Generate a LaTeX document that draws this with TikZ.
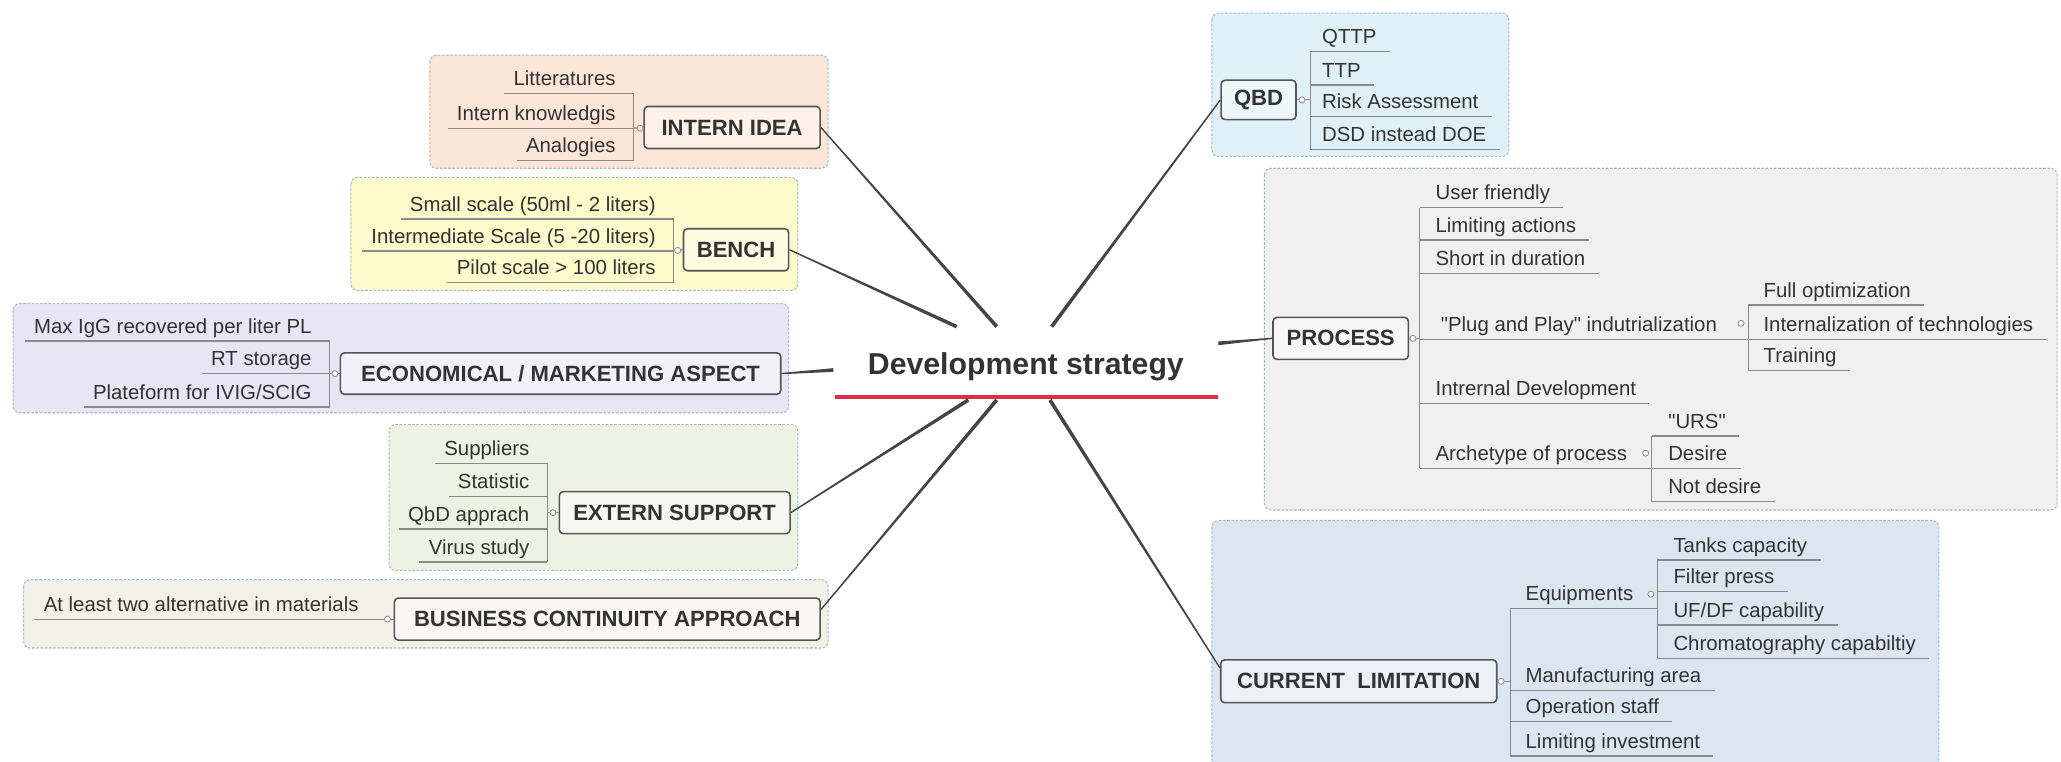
\documentclass[tikz,border=0pt]{standalone}
\usepackage{fontspec}
\setmainfont{Liberation Sans}[Ligatures=TeXOff]
\usetikzlibrary{calc}
\definecolor{txt}{HTML}{333333}
\definecolor{ulc}{HTML}{8A8A8A}
\definecolor{topb}{HTML}{555555}
\definecolor{connc}{HTML}{454545}
\definecolor{grpb}{HTML}{A3BCC4}
\definecolor{redc}{HTML}{DC2F4B}
\definecolor{cint}{HTML}{FBE6D8}
\definecolor{cben}{HTML}{FDFBCB}
\definecolor{ceco}{HTML}{E8E6F4}
\definecolor{cext}{HTML}{EEF2E2}
\definecolor{cbus}{HTML}{F2F1E8}
\definecolor{cqbd}{HTML}{DFF0F6}
\definecolor{cpro}{HTML}{F0F0F0}
\definecolor{ccur}{HTML}{DCE6F1}
\tikzset{
  item/.style={inner sep=0pt, font=\fontsize{15.5}{18}\selectfont, text=txt},
  topic/.style={draw=topb, line width=1.2pt, rounded corners=3pt, inner sep=2pt,
    font=\fontsize{16.8}{20}\selectfont\bfseries, text=txt},
  centertopic/.style={inner sep=0pt, font=\fontsize{23}{27}\selectfont\bfseries, text=txt},
  ul/.style={draw=ulc, line width=0.9pt},
  grp/.style={draw=grpb, line width=0.8pt, dash pattern=on 2pt off 1.2pt, rounded corners=5pt},
  dotc/.style={draw=ulc, fill=white, line width=0.6pt},
  conn/.style={fill=connc},
  redline/.style={draw=redc, line width=3pt},
}
% left item: name, bar x, underline y, text, gap
\newcommand\leftitem[5]{%
  \node[item,anchor=base east] (#1) at ({#2-#5},{#3-6}) {#4};
  \draw[ul] ([xshift=-7pt,yshift=-6pt]#1.base west) -- (#2,#3);
}
% right item: name, bar x, underline y, text, gap
\newcommand\rightitem[5]{%
  \node[item,anchor=base west] (#1) at ({#2+#5},{#3-6}) {#4};
  \draw[ul] (#2,#3) -- ([xshift=10pt,yshift=-6pt]#1.base east);
}
% right item whose underline runs to a given x: name, bar x, ul y, text, gap, end x
\newcommand\rightsub[6]{%
  \node[item,anchor=base west] (#1) at ({#2+#5},{#3-6}) {#4};
  \draw[ul] (#2,#3) -- (#6,#3);
}
\newcommand\taper[2]{%
  \fill[conn] ($(#1)!0.5pt!90:(#2)$) -- ($(#1)!0.5pt!-90:(#2)$)
    -- ($(#2)!1.4pt!90:(#1)$) -- ($(#2)!1.4pt!-90:(#1)$) -- cycle;
}
\begin{document}
\begin{tikzpicture}[x=1pt,y=-1pt]
\useasboundingbox (0,0) rectangle (1568,579);
\fill[white] (0,0) rectangle (1568,579);

% ---------- group boxes ----------
\draw[grp, fill=cint] (327,42) rectangle (630,128);
\draw[grp, fill=cben] (267,135) rectangle (607,221);
\draw[grp, fill=ceco] (10,231) rectangle (600,314);
\draw[grp, fill=cext] (296,323) rectangle (607,434);
\draw[grp, fill=cbus] (18,441) rectangle (630,493);
\draw[grp, fill=cqbd] (922,10) rectangle (1148,119);
\draw[grp, fill=cpro] (962,128) rectangle (1565,388);
\draw[grp, fill=ccur] (922,396) rectangle (1475,590);

% ---------- central topic ----------
\node[centertopic, anchor=base] (center) at (780.5,285) {Development strategy};
\draw[redline] (635.3,302) -- (926.9,302);
\coordinate (cB) at (727.8,248.5);
\coordinate (cI) at (758.3,248.5);
\coordinate (cQ) at (800.1,248.5);
\coordinate (cE) at (634,281.5);
\coordinate (cP) at (926.9,261.2);
\coordinate (cX) at (736.7,304.3);
\coordinate (cU) at (758.3,304.3);
\coordinate (cC) at (798.8,304.3);

% ---------- main topics ----------
\node[topic, fill=cint!55!white, minimum width=134pt, minimum height=32pt] (intern) at (557,97) {INTERN IDEA};
\node[topic, fill=cben!55!white, minimum width=80pt, minimum height=32pt] (bench) at (560,190) {BENCH};
\node[topic, fill=ceco!55!white, minimum width=335pt, minimum height=31.5pt] (econ) at (426.5,284.2) {ECONOMICAL / MARKETING ASPECT};
\node[topic, fill=cext!55!white, minimum width=175.5pt, minimum height=32pt] (extern) at (513.3,390) {EXTERN SUPPORT};
\node[topic, fill=cbus!55!white, minimum width=324pt, minimum height=32pt] (business) at (462,471) {BUSINESS CONTINUITY APPROACH};
\node[topic, fill=cqbd!55!white, minimum width=57pt, minimum height=30pt] (qbd) at (957.5,76) {QBD};
\node[topic, fill=cpro!55!white, minimum width=103pt, minimum height=32pt] (process) at (1020,257.4) {PROCESS};
\node[topic, fill=ccur!55!white, minimum width=210pt, minimum height=32.6pt] (current) at (1033.7,518.3) {CURRENT\ \ LIMITATION};

% ---------- connectors from the centre ----------
\coordinate (busA) at ($(business.north east)!0.28!(business.south east)$);
\coordinate (curA) at ($(current.north west)!0.2!(current.south west)$);
\taper{intern.east}{cI}
\taper{bench.east}{cB}
\taper{econ.east}{cE}
\taper{extern.east}{cX}
\taper{busA}{cU}
\taper{qbd.west}{cQ}
\taper{process.west}{cP}
\taper{curA}{cC}

% ---------- INTERN IDEA ----------
\leftitem{lit}{482}{71}{Litteratures}{13.5}
\leftitem{ink}{482}{97.5}{Intern knowledgis}{13.5}
\leftitem{ana}{482}{122}{Analogies}{13.5}
\draw[ul] (482,71) -- (482,122);
\draw[ul] (482,97.5) -- (intern.west);
\draw[dotc] (487,97.5) circle[radius=2.3pt];

% ---------- BENCH ----------
\leftitem{bsm}{512.5}{166.6}{Small scale (50ml - 2 liters)}{13.5}
\leftitem{bin}{512.5}{191}{Intermediate Scale (5 -20 liters)}{13.5}
\leftitem{bpi}{512.5}{215}{Pilot scale > 100 liters}{13.5}
\draw[ul] (512.5,166.6) -- (512.5,215);
\draw[ul] (512.5,190.5) -- (bench.west);
\draw[dotc] (515.6,190.5) circle[radius=2.3pt];

% ---------- ECONOMICAL ----------
\leftitem{emx}{250.7}{259.4}{Max IgG recovered per liter PL}{13.5}
\leftitem{ert}{250.7}{284}{RT storage}{13.5}
\leftitem{epl}{250.7}{309.6}{Plateform for IVIG/SCIG}{13.5}
\draw[ul] (250.7,259.4) -- (250.7,309.6);
\draw[ul] (250.7,284.2) -- (econ.west);
\draw[dotc] (254.8,284.2) circle[radius=2.3pt];

% ---------- EXTERN SUPPORT ----------
\leftitem{xsu}{416.4}{352.5}{Suppliers}{13.5}
\leftitem{xst}{416.4}{378}{Statistic}{13.5}
\leftitem{xqb}{416.4}{402.5}{QbD apprach}{13.5}
\leftitem{xvi}{416.4}{427.6}{Virus study}{13.5}
\draw[ul] (416.4,352.5) -- (416.4,427.6);
\draw[ul] (416.4,390) -- (extern.west);
\draw[dotc] (420.6,390) circle[radius=2.3pt];

% ---------- BUSINESS CONTINUITY ----------
\leftitem{balt}{294.5}{471}{At least two alternative in materials}{21.5}
\draw[ul] (294.5,471) -- (business.west);
\draw[dotc] (294.8,471) circle[radius=2.3pt];

% ---------- QBD ----------
\rightitem{qqt}{996.7}{39}{QTTP}{9}
\rightitem{qtt}{996.7}{64.7}{TTP}{9}
\rightitem{qra}{996.7}{88.8}{Risk Assessment}{9}
\rightitem{qds}{996.7}{114}{DSD instead DOE}{9}
\draw[ul] (996.7,39) -- (996.7,114);
\draw[ul] (qbd.east) -- (996.7,76);
\draw[dotc] (990.5,76) circle[radius=2.3pt];

% ---------- PROCESS ----------
\rightitem{puf}{1080}{158}{User friendly}{12}
\rightitem{pla}{1080}{182.6}{Limiting actions}{12}
\rightitem{psd}{1080}{208}{Short in duration}{12}
\rightsub{ppp}{1080}{258}{"Plug and Play" indutrialization}{16}{1330}
\rightitem{pid}{1080}{306.9}{Intrernal Development}{12}
\rightsub{pap}{1080}{356.3}{Archetype of process}{12}{1256.5}
\draw[ul] (1080,158) -- (1080,356.3);
\draw[ul] (process.east) -- (1080,257.4);
\draw[dotc] (1075,257.4) circle[radius=2.3pt];
% plug and play children
\rightitem{pfo}{1330}{232}{Full optimization}{11.5}
\rightitem{pit}{1330}{258}{Internalization of technologies}{11.5}
\rightitem{ptr}{1330}{282}{Training}{11.5}
\draw[ul] (1330,232) -- (1330,282);
\draw[dotc] (1324.5,246) circle[radius=2.3pt];
% archetype children
\rightitem{pur}{1256.5}{331.7}{"URS"}{12.5}
\rightitem{pde}{1256.5}{356.3}{Desire}{12.5}
\rightitem{pnd}{1256.5}{381.7}{Not desire}{12.5}
\draw[ul] (1256.5,331.7) -- (1256.5,381.7);
\draw[dotc] (1252,344.7) circle[radius=2.3pt];

% ---------- CURRENT LIMITATION ----------
\rightsub{ceq}{1149}{462.8}{Equipments}{11.5}{1261}
\rightitem{cma}{1149}{525.5}{Manufacturing area}{11.5}
\rightitem{cos}{1149}{549}{Operation staff}{11.5}
\rightitem{cli}{1149}{575.2}{Limiting investment}{11.5}
\draw[ul] (1149,462.8) -- (1149,575.2);
\draw[ul] (current.east) -- (1149,518.3);
\draw[dotc] (1142,518.3) circle[radius=2.3pt];
% equipment children
\rightitem{ctk}{1261}{426}{Tanks capacity}{12}
\rightitem{cfp}{1261}{450.1}{Filter press}{12}
\rightitem{cuf}{1261}{475.5}{UF/DF capability}{12}
\rightitem{cch}{1261}{500.9}{Chromatography capabiltiy}{12}
\draw[ul] (1261,426) -- (1261,500.9);
\draw[dotc] (1256,452) circle[radius=2.3pt];
\end{tikzpicture}
\end{document}
